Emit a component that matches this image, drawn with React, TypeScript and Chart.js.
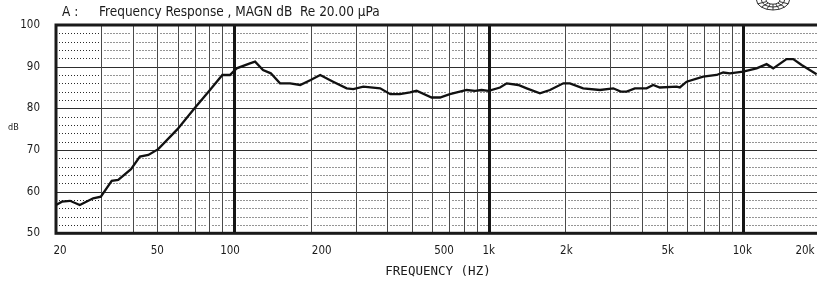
import React, { useEffect, useRef } from "react";
import { Chart, registerables } from "chart.js";
Chart.register(...registerables);

// ---- data ----
const freqHz = [
  20, 21.1, 22.7, 24.8, 28, 30, 33.1, 35.1, 39.4, 42.7, 46.1, 50.4, 60, 70, 80, 90, 96.4,
  102.4, 115.5, 121, 130, 139.5, 151.6, 166, 182, 200, 218, 245, 277, 294, 322, 375, 411,
  448, 491, 521, 597, 644, 704, 820, 884, 938, 1000, 1108, 1177, 1307, 1410, 1590, 1740,
  1964, 2084, 2350, 2734, 3084, 3300, 3482, 3750, 4168, 4426, 4700, 5466, 5632, 5988,
  6954, 7848, 8336, 8854, 9984, 11272, 12340, 13100, 14780, 15700, 16940, 19400,
];
const magnDb = [
  56.8, 57.6, 57.8, 56.8, 58.4, 58.8, 62.6, 62.8, 65.4, 68.4, 68.8, 70.2, 75.0, 80.0, 84.2, 88.0, 88.0,
  89.6, 90.8, 91.2, 89.2, 88.4, 86.0, 86.0, 85.6, 86.8, 88.0, 86.4, 84.8, 84.6, 85.2, 84.8, 83.4,
  83.4, 83.8, 84.2, 82.6, 82.6, 83.4, 84.4, 84.2, 84.4, 84.2, 85.0, 86.0, 85.6, 84.8, 83.6, 84.4,
  86.0, 86.0, 84.8, 84.4, 84.8, 84.0, 84.0, 84.8, 84.8, 85.6, 85.0, 85.2, 85.0, 86.4,
  87.6, 88.0, 88.6, 88.4, 88.8, 89.6, 90.6, 89.6, 91.8, 91.8, 90.4, 88.2,
];
const xTickValues = [20, 50, 100, 200, 500, 1000, 2000, 5000, 10000, 20000];
const xTickLabels = ["20", "50", "100", "200", "500", "1k", "2k", "5k", "10k", "20k"];
const yTickValues = [50, 60, 70, 80, 90, 100];
const yTickLabels = ["50", "60", "70", "80", "90", "100"];
const majorFreqs = [100, 1000, 10000];
const titleLead = "A :";
const titleText = "Frequency Response , MAGN dB  Re 20.00 \u00b5Pa";
const xAxisTitle = "FREQUENCY (HZ)";
const yAxisTitle = "dB";

// ---- layout (pixels) ----
const xLabelNudge = [4, 0, -4, 11, 32, 0, 1, 1, -1, -15];
const CONDENSED = '"DejaVu Sans Condensed", "Liberation Sans Narrow", "DejaVu Sans", sans-serif';

const gridFreqs: number[] = [];
for (const d of [10, 100, 1000, 10000]) {
  for (let m = 1; m <= 9; m++) {
    const f = d * m;
    if (f > 20 && f < 20000 && !majorFreqs.includes(f)) gridFreqs.push(f);
  }
}
const dottedDb: number[] = [];
for (let v = 52; v < 100; v += 2) if (v % 10 !== 0) dottedDb.push(v);
const solidDb = [60, 70, 80, 90];

const apPlugin = {
  id: "apGrid",
  beforeDatasetsDraw(chart: any) {
    const { ctx, chartArea: a, scales } = chart;
    const x = scales.x, y = scales.y;
    ctx.save();
    const vx = [...gridFreqs, ...majorFreqs]
      .map((f) => Math.round(x.getPixelForValue(f)) + 0.5)
      .sort((p, q) => p - q);
    const xs = [a.left, ...vx, a.right];
    // dotted horizontals
    ctx.strokeStyle = "#2a2a2a";
    ctx.lineWidth = 1;
    ctx.setLineDash([1, 2]);
    for (const v of dottedDb) {
      const py = Math.round(y.getPixelForValue(v)) + 0.5;
      for (let i = 0; i < xs.length - 1; i++) {
        const x0 = xs[i] + 3, x1 = xs[i + 1] - 2;
        if (x1 > x0) {
          ctx.beginPath();
          ctx.moveTo(x0, py);
          ctx.lineTo(x1, py);
          ctx.stroke();
        }
      }
    }
    ctx.setLineDash([]);
    // solid horizontals
    ctx.strokeStyle = "#2e2e2e";
    for (const v of solidDb) {
      const py = Math.round(y.getPixelForValue(v)) + 0.5;
      ctx.beginPath();
      ctx.moveTo(a.left, py);
      ctx.lineTo(a.right, py);
      ctx.stroke();
    }
    // minor verticals
    ctx.strokeStyle = "#4a4a4a";
    for (const f of gridFreqs) {
      const px = Math.round(x.getPixelForValue(f)) + 0.5;
      ctx.beginPath();
      ctx.moveTo(px, a.top);
      ctx.lineTo(px, a.bottom);
      ctx.stroke();
    }
    // major verticals
    ctx.strokeStyle = "#151515";
    ctx.lineWidth = 3;
    for (const f of majorFreqs) {
      const px = Math.round(x.getPixelForValue(f)) + 0.5;
      ctx.beginPath();
      ctx.moveTo(px, a.top);
      ctx.lineTo(px, a.bottom);
      ctx.stroke();
    }
    // frame
    ctx.strokeStyle = "#1a1a1a";
    ctx.lineWidth = 3;
    ctx.strokeRect(a.left, a.top, a.right - a.left, a.bottom - a.top);
    ctx.restore();
  },
  afterDraw(chart: any) {
    const { ctx, chartArea: a, scales } = chart;
    const x = scales.x, y = scales.y;
    ctx.save();
    ctx.fillStyle = "#1a1a1a";
    ctx.textBaseline = "middle";
    // y labels
    ctx.font = `11.5px ${CONDENSED}`;
    ctx.textAlign = "right";
    yTickValues.forEach((v, i) => {
      ctx.fillText(yTickLabels[i], 40, y.getPixelForValue(v));
    });
    // x labels
    ctx.textAlign = "center";
    xTickValues.forEach((f, i) => {
      ctx.fillText(xTickLabels[i], x.getPixelForValue(f) + xLabelNudge[i], a.bottom + 17.5);
    });
    // y axis title
    ctx.font = `9px ${CONDENSED}`;
    ctx.textAlign = "left";
    ctx.fillText(yAxisTitle, 8, 128);
    // x axis title
    ctx.font = `12.5px "DejaVu Sans Mono", monospace`;
    ctx.textAlign = "center";
    ctx.fillText(xAxisTitle, 438, 272);
    // title
    ctx.font = `13.5px ${CONDENSED}`;
    ctx.textAlign = "left";
    ctx.fillText(titleLead, 62, 12);
    ctx.fillText(titleText, 99, 12);
    // logo (fan)
    const cx = 773, cy = 0, rx = 16.5, ry = 10;
    ctx.strokeStyle = "#333";
    ctx.lineWidth = 1;
    for (const s of [1, 0.7, 0.42]) {
      ctx.beginPath();
      ctx.ellipse(cx, cy, rx * s, ry * s, 0, 0, Math.PI);
      ctx.stroke();
    }
    for (let k = 1; k < 8; k++) {
      const t = (Math.PI * k) / 8;
      ctx.beginPath();
      ctx.moveTo(cx + Math.cos(t) * rx * 0.42, cy + Math.sin(t) * ry * 0.42);
      ctx.lineTo(cx + Math.cos(t) * rx, cy + Math.sin(t) * ry);
      ctx.stroke();
    }
    ctx.restore();
  },
};

export default function App() {
  const ref = useRef<HTMLCanvasElement>(null);
  useEffect(() => {
    const chart = new Chart(ref.current as HTMLCanvasElement, {
      type: "line",
      data: {
        datasets: [
          {
            data: freqHz.map((f, i) => ({ x: f, y: magnDb[i] })),
            borderColor: "#111",
            borderWidth: 2.3,
            pointRadius: 0,
            tension: 0,
            fill: false,
          },
        ],
      },
      options: {
        responsive: false,
        devicePixelRatio: 1,
        animation: false,
        events: [],
        layout: { padding: { left: 56, top: 25, right: 1, bottom: 52.7 } },
        plugins: { legend: { display: false }, tooltip: { enabled: false }, title: { display: false } },
        scales: {
          x: { type: "logarithmic", min: 20, max: 20000, display: false },
          y: { type: "linear", min: 50, max: 100, display: false },
        },
      },
      plugins: [apPlugin],
    } as any);
    return () => chart.destroy();
  }, []);
  return (
    <div style={{ position: "fixed", left: 0, top: 0, width: 817, height: 286, overflow: "hidden", background: "#fff" }}>
      <canvas ref={ref} width={821} height={286} style={{ display: "block", width: 821, height: 286 }} />
    </div>
  );
}
